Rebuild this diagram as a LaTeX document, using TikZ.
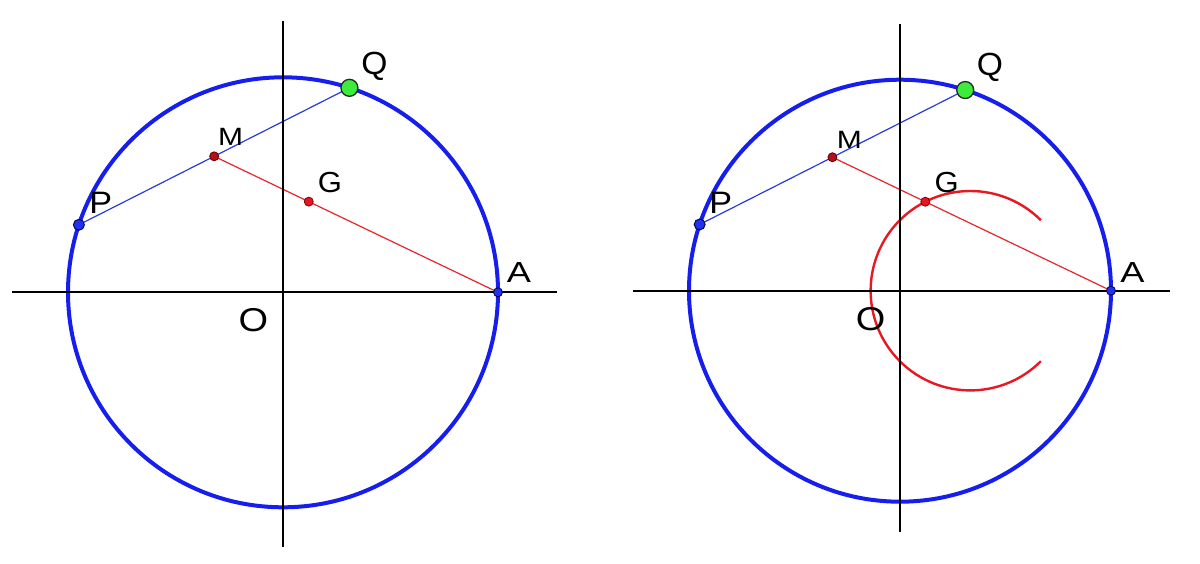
\documentclass[tikz,border=0pt]{standalone}
\usepackage{fontspec}
\usepackage{graphicx}
\setmainfont{Liberation Sans}
\usetikzlibrary{calc}
\definecolor{circblue}{RGB}{22,30,238}
\definecolor{chordblue}{RGB}{40,60,215}
\definecolor{segred}{RGB}{232,36,44}
\definecolor{arcred}{RGB}{232,24,34}
\definecolor{ptgreen}{RGB}{60,235,60}
\definecolor{ptblue}{RGB}{30,50,240}
\definecolor{ptdarkred}{RGB}{180,16,28}
\definecolor{ptred}{RGB}{232,20,32}
\newcommand{\wlbl}[2]{\scalebox{#1}[1]{#2}}
\tikzset{
  axisline/.style={line width=2.3pt, black},
  bigcircle/.style={line width=4pt, circblue},
  chord/.style={line width=1.2pt, chordblue},
  redseg/.style={line width=1.2pt, segred},
  locus/.style={line width=2.4pt, arcred},
  ptq/.style={circle, fill=ptgreen, draw=black!85, line width=1.3pt, minimum size=17pt, inner sep=0pt},
  ptp/.style={circle, fill=ptblue, draw=black!70!blue, line width=0.9pt, minimum size=11pt, inner sep=0pt},
  pta/.style={circle, fill=ptblue, draw=black!70!blue, line width=0.8pt, minimum size=9pt, inner sep=0pt},
  ptm/.style={circle, fill=ptdarkred, draw=black!60!red, line width=0.8pt, minimum size=9pt, inner sep=0pt},
  ptg/.style={circle, fill=ptred, draw=black!50!red, line width=0.8pt, minimum size=9pt, inner sep=0pt},
  lbl/.style={inner sep=0pt, text=black},
  lblq/.style={lbl, font=\fontsize{32}{34}\selectfont},
  lblp/.style={lbl, font=\fontsize{31}{33}\selectfont},
  lbla/.style={lbl, font=\fontsize{29}{31}\selectfont},
  lblg/.style={lbl, font=\fontsize{29}{31}\selectfont},
  lblm/.style={lbl, font=\fontsize{25}{27}\selectfont},
  lblo/.style={lbl, font=\fontsize{33}{35}\selectfont}
}
\begin{document}
\begin{tikzpicture}[x=1pt,y=-1pt]
\useasboundingbox (0,0) rectangle (1200,563);

% ---------- left figure ----------
\coordinate (OL) at (283,292.3);
\coordinate (AL) at ($(OL)+(0:215)$);
\coordinate (PL) at ($(OL)+(-161.7:215)$);
\coordinate (QL) at ($(OL)+(-72:215)$);
\coordinate (ML) at ($(PL)!0.5!(QL)$);
\coordinate (GL) at ($(ML)!1/3!(AL)$);
\coordinate (XLa) at (11.5,292.3);
\coordinate (XLb) at (556.5,292.3);
\coordinate (YLa) at (283,20.5);
\coordinate (YLb) at (283,547);

\draw[bigcircle] (OL) circle[radius=215];
\draw[chord] (PL) -- (QL);
\draw[redseg] (ML) -- (AL);
\draw[axisline] (XLa) -- (XLb);
\draw[axisline] (YLa) -- (YLb);

\node[ptq] (nQL) at (QL) {};
\node[ptp] (nPL) at (PL) {};
\node[pta] (nAL) at (AL) {};
\node[ptm] (nML) at (ML) {};
\node[ptg] (nGL) at (GL) {};

\node[lblq] (tQL) at (374.5,66) {\wlbl{1.05}{Q}};
\node[lblm] (tML) at (230.7,137.3) {\wlbl{1.2}{M}};
\node[lblg] (tGL) at (330,182.3) {\wlbl{1.07}{G}};
\node[lblp] (tPL) at (100.7,203.3) {\wlbl{1.1}{P}};
\node[lbla] (tAL) at (519,273) {\wlbl{1.25}{A}};
\node[lblo] (tOL) at (253.3,320.5) {\wlbl{1.15}{O}};

% ---------- right figure ----------
\coordinate (OR) at (900,290.7);
\coordinate (AR) at ($(OR)+(0:211)$);
\coordinate (PR) at ($(OR)+(-161.7:211)$);
\coordinate (QR) at ($(OR)+(-72:211)$);
\coordinate (MR) at ($(PR)!0.5!(QR)$);
\coordinate (GR) at ($(MR)!1/3!(AR)$);
\coordinate (CR) at ($(OR)!1/3!(AR)$);
\coordinate (XRa) at (633,290.7);
\coordinate (XRb) at (1169.5,290.7);
\coordinate (YRa) at (900,24);
\coordinate (YRb) at (900,531.7);

\draw[bigcircle] (OR) circle[radius=211];
\draw[chord] (PR) -- (QR);
\draw[redseg] (MR) -- (AR);
\draw[locus] ($(CR)+(-45:99.7)$) arc[start angle=-45, end angle=-315, radius=99.7];
\draw[axisline] (XRa) -- (XRb);
\draw[axisline] (YRa) -- (YRb);

\node[ptq] (nQR) at (QR) {};
\node[ptp] (nPR) at (PR) {};
\node[pta] (nAR) at (AR) {};
\node[ptm] (nMR) at (MR) {};
\node[ptg] (nGR) at (GR) {};

\node[lblq] (tQR) at (990,67.8) {\wlbl{1.05}{Q}};
\node[lblm] (tMR) at (849.3,140) {\wlbl{1.2}{M}};
\node[lblg] (tGR) at (946.7,182.3) {\wlbl{1.07}{G}};
\node[lblp] (tPR) at (720.7,203.3) {\wlbl{1.1}{P}};
\node[lbla] (tAR) at (1132.5,272.7) {\wlbl{1.25}{A}};
\node[lblo] (tOR) at (870.7,319.3) {\wlbl{1.15}{O}};
\end{tikzpicture}
\end{document}
